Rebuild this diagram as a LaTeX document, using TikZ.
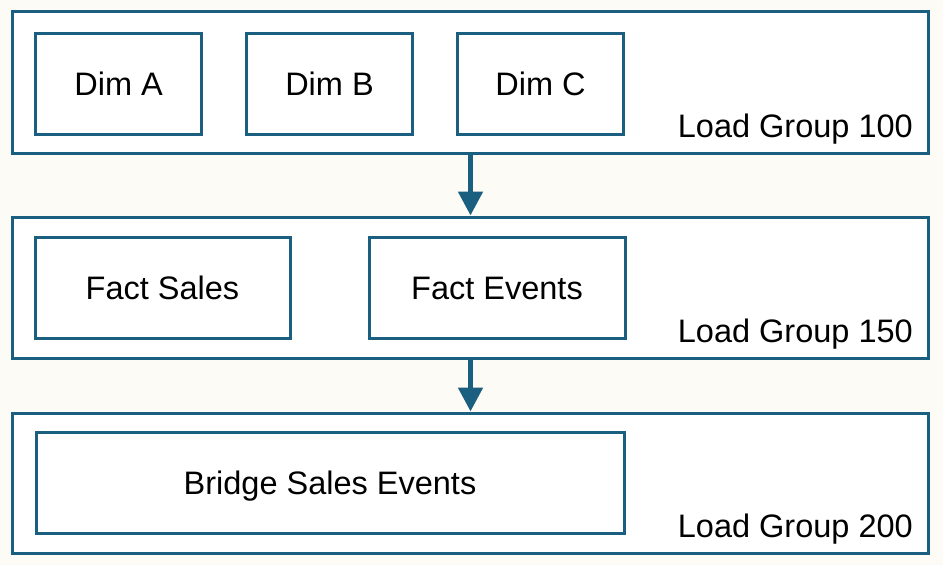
\documentclass[tikz,border=0pt]{standalone}
\usepackage{fontspec}
\setmainfont{Liberation Sans}
\usetikzlibrary{arrows.meta}
\definecolor{bordc}{HTML}{1B5F80}
\definecolor{creamc}{HTML}{FDFBF6}
\tikzset{
  grp/.style={draw=bordc, line width=3pt, fill=white, inner sep=0pt, minimum width=916pt},
  tbl/.style={draw=bordc, line width=3pt, fill=white, inner sep=0pt, minimum height=101.5pt,
    text height=23.3pt, text depth=0pt,
    font=\fontsize{32.5}{38}\selectfont, text=black},
  lbl/.style={anchor=base east, inner sep=0pt, font=\fontsize{32.5}{38}\selectfont, text=black},
  arr/.style={draw=bordc, line width=5pt, -{Triangle[width=24pt,length=24pt]}, shorten <=-1pt}
}
\begin{document}
\begin{tikzpicture}[x=1pt,y=-1pt]
\fill[creamc] (0,0) rectangle (943,565);
\useasboundingbox (0,0) rectangle (943,565);
% groups
\node[grp, minimum height=142pt] (g1) at (470.5,82) {};
\node[grp, minimum height=141pt] (g2) at (470.5,287.5) {};
\node[grp, minimum height=140pt] (g3) at (470.5,483) {};
% tables
\node[tbl, minimum width=166.5pt] (dima) at (118.7,84) {Dim A};
\node[tbl, minimum width=166.5pt] (dimb) at (329.5,84) {Dim B};
\node[tbl, minimum width=166.5pt] (dimc) at (540.5,84) {Dim C};
\node[tbl, minimum width=255pt] (fsales) at (162.5,288) {Fact Sales};
\node[tbl, minimum width=256pt] (fevents) at (497,288) {Fact Events};
\node[tbl, minimum width=588pt] (bridge) at (330,483) {Bridge Sales Events};
% labels
\node[lbl] (l1) at (913,137) {Load Group 100};
\node[lbl] (l2) at (913,342) {Load Group 150};
\node[lbl] (l3) at (913,537) {Load Group 200};
% arrows
\draw[arr] (g1.south) -- (g2.north);
\draw[arr] (g2.south) -- (g3.north);
\end{tikzpicture}
\end{document}
